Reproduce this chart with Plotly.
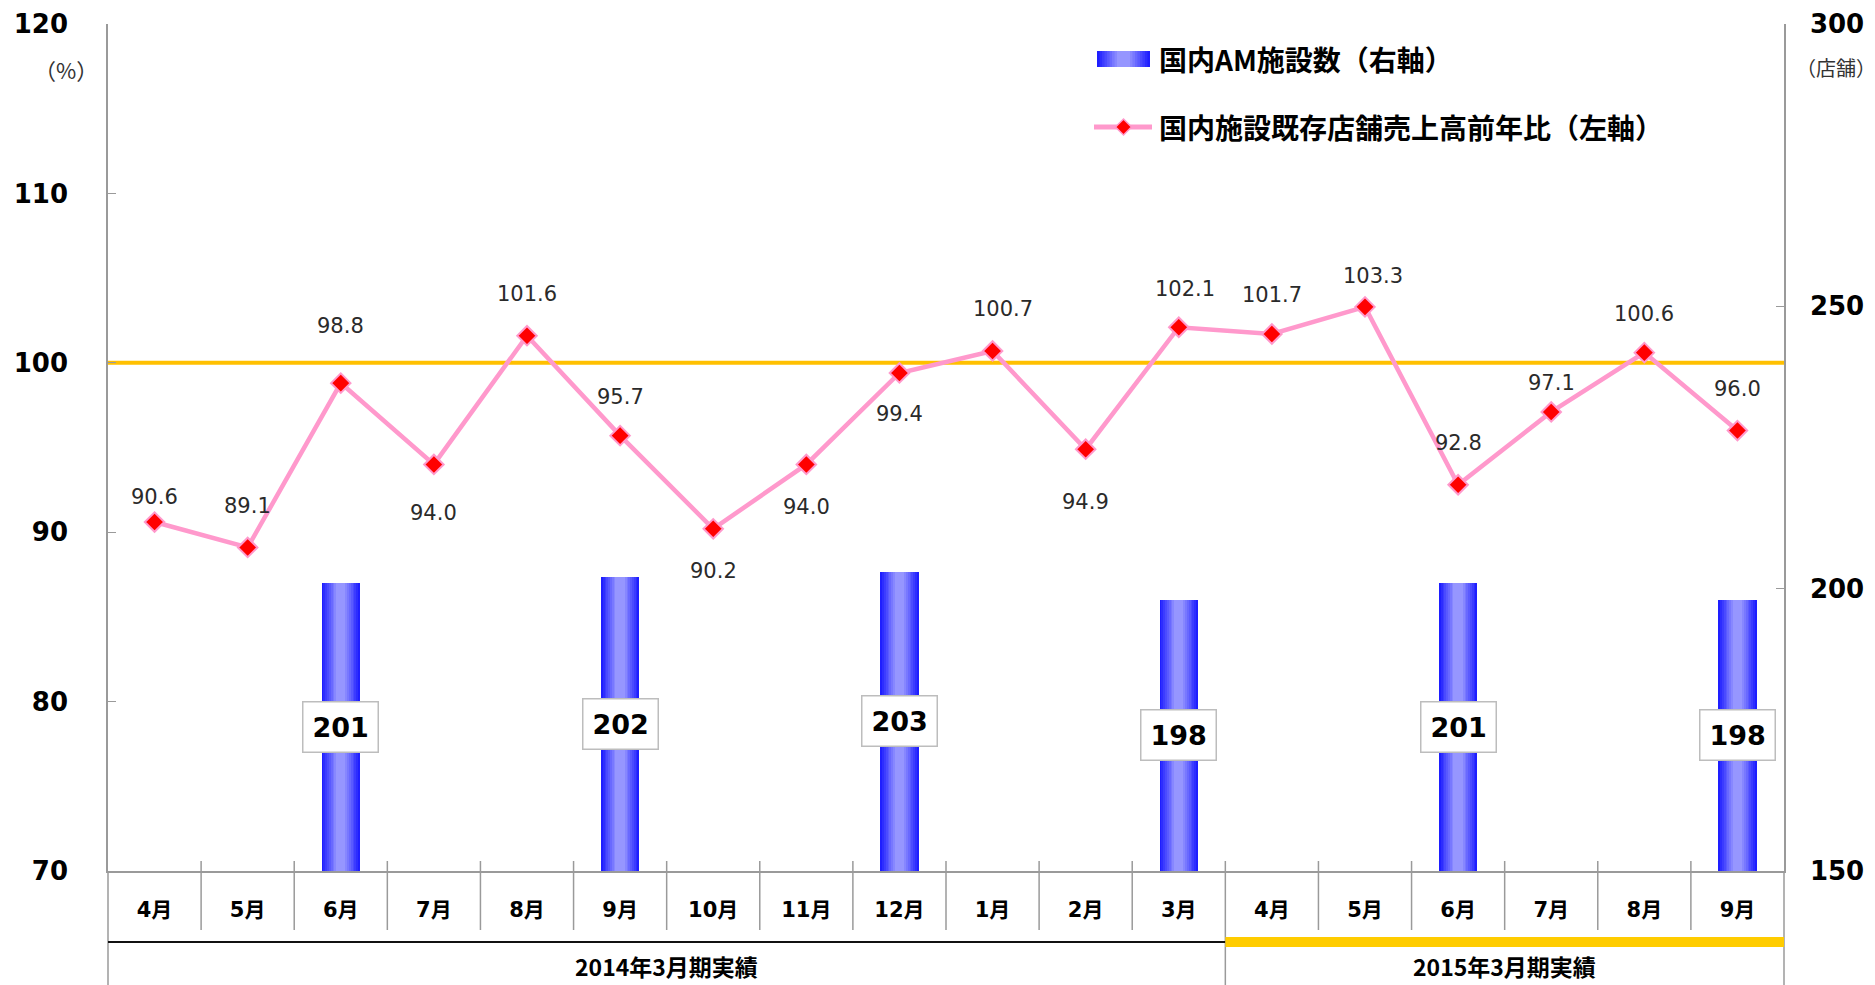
import plotly.graph_objects as go

# ---------------- data ----------------
months = ["4月", "5月", "6月", "7月", "8月", "9月", "10月", "11月", "12月", "1月", "2月", "3月",
          "4月", "5月", "6月", "7月", "8月", "9月"]
groups = ["2014年3月期実績", "2015年3月期実績"]
group_sizes = [12, 6]
sales_yoy = [90.6, 89.1, 98.8, 94.0, 101.6, 95.7, 90.2, 94.0, 99.4, 100.7, 94.9, 102.1,
             101.7, 103.3, 92.8, 97.1, 100.6, 96.0]
facility_counts = [None, None, 201, None, None, 202, None, None, 203, None, None, 198,
                   None, None, 201, None, None, 198]
left_ticks = [70, 80, 90, 100, 110, 120]
right_ticks = [150, 200, 250, 300]
bar_name = "国内AM施設数（右軸）"
line_name = "国内施設既存店舗売上高前年比（左軸）"
left_unit = "（%）"
right_unit = "（店舗）"
reference_level = 100

# ---------------- style ----------------
label_yshift = [25, 41, 57, -49, 42, 39, -42, -43, -41, 42, -53, 38, 39, 31, 42, 29, 39, 42]
label_xshift = [0, 0, 0, 0, 0, 0, 0, 0, 0, 10, 0, 6, 0, 8, 0, 0, 0, 0]
W, H = 1875, 985
ML, MR, MT, MB = 108, 91, 24, 114
PW = W - ML - MR
PH = H - MT - MB
BAR_W = 0.41
N_LAYERS = 9
dark = (30, 30, 255)
light = (150, 150, 255)
AX = "#9a9a9a"
PINK = "#FF99CC"
NUM_FONT = "DejaVu Sans, Noto Sans CJK JP"
JP_FONT = "Noto Sans CJK JP, DejaVu Sans"


def px(xpix):
    return (xpix - ML) / PW


def py(ypix):
    return (H - MB - ypix) / PH


def layer_color(k):
    t = k / (N_LAYERS - 1)
    return "rgb({},{},{})".format(*[round(dark[i] + (light[i] - dark[i]) * t) for i in range(3)])


def layer_frac(k):
    return 1 - 0.85 * k / N_LAYERS


x = list(range(len(months)))
n = len(months)

fig = go.Figure()

# gradient bars (layered)
for k in range(N_LAYERS):
    fig.add_trace(go.Bar(
        x=x, y=facility_counts, yaxis="y2", width=BAR_W * layer_frac(k),
        marker=dict(color=layer_color(k), line=dict(width=0)),
        name=bar_name, showlegend=False,
        hoverinfo="skip" if k else None,
    ))

fig.add_trace(go.Scatter(
    x=x, y=sales_yoy, mode="lines+markers", name=line_name, showlegend=False,
    line=dict(color=PINK, width=4.5),
    marker=dict(symbol="diamond", size=15, color="#FF0000", line=dict(color=PINK, width=2)),
))

annotations = []
for i, v in enumerate(sales_yoy):
    annotations.append(dict(
        x=x[i], y=v, xref="x", yref="y", text=f"{v:.1f}", showarrow=False,
        yshift=label_yshift[i], xshift=label_xshift[i],
        font=dict(family=NUM_FONT, size=21, color="#2a2a2a"),
    ))

for i, v in enumerate(facility_counts):
    if v is None:
        continue
    annotations.append(dict(
        x=x[i], y=(right_ticks[0] + v) / 2, xref="x", yref="y2", text=str(v), showarrow=False,
        bgcolor="white", bordercolor="#bdbdbd", borderwidth=1.5, borderpad=9,
        font=dict(family=NUM_FONT, size=27, color="black", weight="bold"),
    ))

# units
annotations.append(dict(x=px(66), y=py(69), xref="paper", yref="paper", text=left_unit, showarrow=False,
                        xanchor="center", yanchor="middle",
                        font=dict(family=JP_FONT, size=22, color="#333333")))
annotations.append(dict(x=px(1836), y=py(67), xref="paper", yref="paper", text=right_unit, showarrow=False,
                        xanchor="center", yanchor="middle",
                        font=dict(family=JP_FONT, size=20, color="#333333")))

# group labels
start = 0
for g, s in zip(groups, group_sizes):
    annotations.append(dict(
        x=(start + s / 2) / n, y=py(966), xref="paper", yref="paper",
        text=g, showarrow=False, xanchor="center", yanchor="middle",
        font=dict(family=JP_FONT, size=23, color="black", weight="bold"),
    ))
    start += s

# legend (drawn)
LEG_X0, LEG_X1 = 1097, 1150
LEG_Y_BAR, LEG_Y_LINE = 59, 127
LEG_TEXT_X = 1157
for name, yy in ((bar_name, LEG_Y_BAR), (line_name, LEG_Y_LINE)):
    annotations.append(dict(x=px(LEG_TEXT_X), y=py(yy), xref="paper", yref="paper", text=name,
                            showarrow=False, xanchor="left", yanchor="middle",
                            font=dict(family=JP_FONT, size=28, color="black", weight="bold")))

shapes = []
shapes.append(dict(type="line", xref="paper", yref="y", x0=0, x1=1, y0=reference_level, y1=reference_level,
                   line=dict(color="#FFC000", width=4), layer="below"))
y_top_tick = 10 / PH
y_sep_bottom = py(930)
y_bottom = py(H + 2)
y_group = py(942)
boundary = group_sizes[0]
for i in range(1, n):
    shapes.append(dict(type="line", xref="paper", yref="paper", x0=i / n, x1=i / n,
                       y0=y_top_tick, y1=(y_bottom if i == boundary else y_sep_bottom),
                       line=dict(color=AX, width=1.5)))
for xp in (0, 1):
    shapes.append(dict(type="line", xref="paper", yref="paper", x0=xp, x1=xp, y0=0, y1=y_bottom,
                       line=dict(color=AX, width=1.5)))
shapes.append(dict(type="line", xref="paper", yref="paper", x0=0, x1=boundary / n, y0=y_group, y1=y_group,
                   line=dict(color="#111111", width=2)))
shapes.append(dict(type="line", xref="paper", yref="paper", x0=boundary / n, x1=1, y0=y_group, y1=y_group,
                   line=dict(color="#FFCC00", width=10)))

# legend symbols
cx = (LEG_X0 + LEG_X1) / 2
half = (LEG_X1 - LEG_X0) / 2
for k in range(N_LAYERS):
    hw = half * layer_frac(k)
    shapes.append(dict(type="rect", xref="paper", yref="paper",
                       x0=px(cx - hw), x1=px(cx + hw), y0=py(LEG_Y_BAR - 8), y1=py(LEG_Y_BAR + 8),
                       fillcolor=layer_color(k), line=dict(width=0)))
shapes.append(dict(type="line", xref="paper", yref="paper", x0=px(LEG_X0 - 3), x1=px(LEG_X1 + 2),
                   y0=py(LEG_Y_LINE), y1=py(LEG_Y_LINE), line=dict(color=PINK, width=5)))
d = 8
path = "M {},{} L {},{} L {},{} L {},{} Z".format(
    px(cx), py(LEG_Y_LINE - d), px(cx + d), py(LEG_Y_LINE), px(cx), py(LEG_Y_LINE + d), px(cx - d), py(LEG_Y_LINE))
shapes.append(dict(type="path", xref="paper", yref="paper", path=path,
                   fillcolor="#FF0000", line=dict(color=PINK, width=1.5)))

fig.update_layout(
    width=W, height=H,
    margin=dict(l=ML, r=MR, t=MT, b=MB, autoexpand=False),
    paper_bgcolor="white", plot_bgcolor="white",
    barmode="overlay", bargap=0,
    showlegend=False,
    xaxis=dict(range=[-0.5, n - 0.5], tickvals=x, ticktext=months, showgrid=False, zeroline=False,
               showline=True, linecolor=AX, linewidth=1.5, ticks="", automargin=False,
               tickfont=dict(family=NUM_FONT, size=21, color="black", weight="bold"),
               ticklabelstandoff=19),
    yaxis=dict(range=[left_ticks[0], left_ticks[-1]], tickvals=left_ticks, showgrid=False, zeroline=False,
               showline=True, linecolor=AX, linewidth=1.5, ticks="inside", ticklen=8, tickcolor=AX,
               automargin=False,
               tickfont=dict(family=NUM_FONT, size=26, color="black", weight="bold"),
               ticklabelstandoff=33),
    yaxis2=dict(range=[right_ticks[0], right_ticks[-1]], tickvals=right_ticks, overlaying="y", side="right",
                showgrid=False, zeroline=False, showline=True, linecolor=AX, linewidth=1.5,
                ticks="inside", ticklen=8, tickcolor=AX, automargin=False,
                tickfont=dict(family=NUM_FONT, size=26, color="black", weight="bold"),
                ticklabelstandoff=19),
    annotations=annotations,
    shapes=shapes,
)

fig.write_html("out.html", config={"displayModeBar": False},
               post_script="document.body.style.margin='0';document.body.style.overflow='hidden';")
